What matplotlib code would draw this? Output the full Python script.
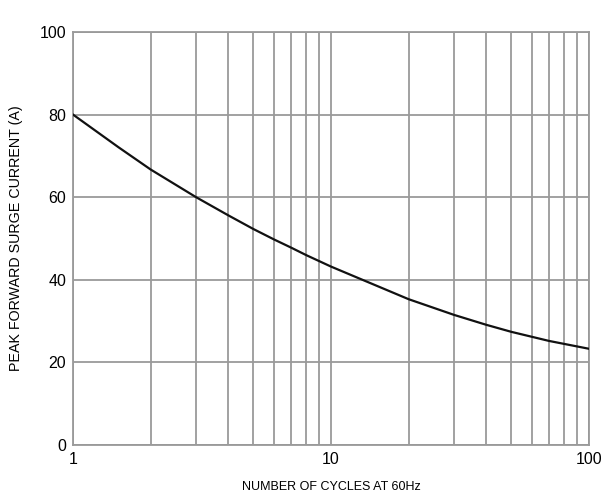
import numpy as np
import matplotlib.pyplot as plt
from matplotlib.ticker import FixedLocator, NullFormatter

plt.rcParams['font.family'] = ['Liberation Sans', 'DejaVu Sans']

# surge rating vs. number of cycles (60 Hz)
cycles = [1, 1.5, 2, 3, 4, 5, 6, 7, 8, 10, 20, 30, 40, 50, 70, 100]
current = [80, 72.1, 66.7, 60, 55.6, 52.3, 49.8, 47.8, 46.0, 43.2, 35.3, 31.5, 29.1, 27.4, 25.2, 23.3]

xticks = [1, 10, 100]
xtick_labels = ['1', '10', '100']
yticks = [0, 20, 40, 60, 80, 100]

fig = plt.figure(figsize=(6.01, 5.03), dpi=100)
ax = fig.add_axes([0.1215, 0.1153, 0.8585, 0.8211])

ax.plot(cycles, current, color='#111111', lw=1.6, zorder=3)

ax.set_xscale('log')
ax.set_xlim(1, 100)
ax.set_ylim(0, 100)
ax.xaxis.set_major_locator(FixedLocator(xticks))
ax.set_xticklabels(xtick_labels)
minor = [m * d for d in (1, 10) for m in range(2, 10)]
ax.xaxis.set_minor_locator(FixedLocator(minor))
ax.xaxis.set_minor_formatter(NullFormatter())
ax.set_yticks(yticks)

grid_c = '#9a9a9a'
ax.grid(True, which='both', color=grid_c, lw=1.3)
for s in ax.spines.values():
    s.set_color(grid_c)
    s.set_linewidth(1.3)

ax.tick_params(which='both', length=0, labelsize=11.5, pad=5)
ax.set_xlabel('NUMBER OF CYCLES AT 60Hz', fontsize=9, labelpad=10)
ax.set_ylabel('PEAK FORWARD SURGE CURRENT (A)', fontsize=10.3, labelpad=12)

fig.savefig('out.png', dpi=100)
